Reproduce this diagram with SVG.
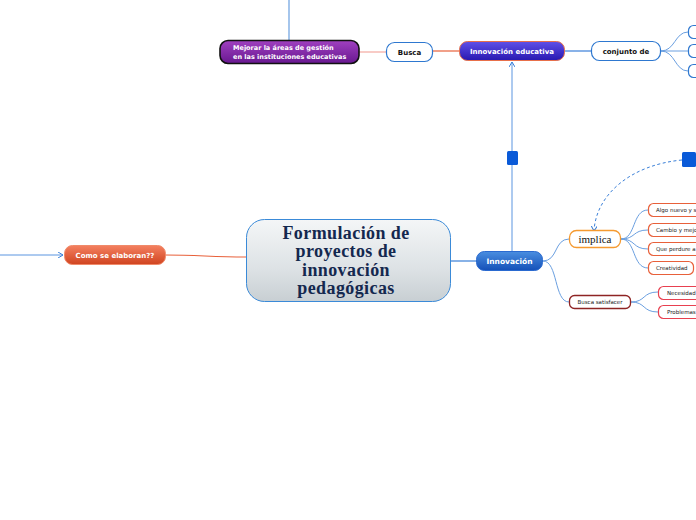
<svg xmlns="http://www.w3.org/2000/svg" width="696" height="520" viewBox="0 0 696 520">
<style>
.t{font-family:"DejaVu Sans",Verdana,sans-serif;font-weight:bold;font-size:7px;text-anchor:middle}
.s{font-family:"DejaVu Sans",Verdana,sans-serif;font-size:5.5px;fill:#222}
.w{fill:#fff}
.c{fill:none;stroke:#6a9fe0;stroke-width:1}
.wb{fill:#fff;stroke:#2e78d0;stroke-width:1.2}
.ob{fill:#fff;stroke:#e8603a;stroke-width:1.2}
</style>
<defs>
<linearGradient id="gc" x1="0" y1="0" x2="0" y2="1"><stop offset="0" stop-color="#f4f6f7"/><stop offset="0.6" stop-color="#dde2e5"/><stop offset="1" stop-color="#c8cfd3"/></linearGradient>
<linearGradient id="gb" x1="0" y1="0" x2="0" y2="1"><stop offset="0" stop-color="#4a8ee0"/><stop offset="1" stop-color="#1450b8"/></linearGradient>
<linearGradient id="gp" x1="0" y1="0" x2="0" y2="1"><stop offset="0" stop-color="#6050e8"/><stop offset="1" stop-color="#2818b0"/></linearGradient>
<linearGradient id="gm" x1="0" y1="0" x2="0" y2="1"><stop offset="0" stop-color="#a040c0"/><stop offset="1" stop-color="#681890"/></linearGradient>
<linearGradient id="go" x1="0" y1="0" x2="0" y2="1"><stop offset="0" stop-color="#f48060"/><stop offset="1" stop-color="#d04420"/></linearGradient>
<marker id="ar" markerWidth="6" markerHeight="6" refX="5" refY="3" orient="auto" markerUnits="userSpaceOnUse"><path d="M0,0 L5,3 L0,6" fill="none" stroke="#3a7fd8" stroke-width="1"/></marker>
</defs>
<g id="connectors">
<path d="M289,0 V40" stroke="#6a9fe0" stroke-width="1.2" fill="none"/>
<path d="M359,52 H386" stroke="#f4a8a0" stroke-width="1.2" fill="none"/>
<path d="M433,51 H459" stroke="#e8603a" stroke-width="1.2" fill="none"/>
<path d="M565,51 H591" stroke="#3a7fd8" stroke-width="1.2" fill="none"/>
<path d="M661,51 C675,51 675,32 688,32 M661,51 H688 M661,51 C675,51 675,71 688,71" class="c"/>
<path d="M512,251 V62" stroke="#5a95e0" stroke-width="1" fill="none" marker-end="url(#ar)"/>
<path d="M450,261 H476" stroke="#3a7fd8" stroke-width="1.2" fill="none"/>
<path d="M543,261 C558,261 554,239 569,239 M543,261 C558,261 554,302 569,302" class="c"/>
<path d="M621,239 C636,239 632,210 648,210 M621,239 C636,239 632,230 648,230 M621,239 C636,239 632,249 648,249 M621,239 C636,239 632,268 648,268" class="c"/>
<path d="M631,302 C646,302 642,292 658,292 M631,302 C646,302 642,312 658,312" class="c"/>
<path d="M682,160 C630,165 596,195 594,231" fill="none" stroke="#3a7fd8" stroke-width="1" stroke-dasharray="3,2.5" marker-end="url(#ar)"/>
<path d="M246,257 C210,257 200,255 165,255" stroke="#e8603a" stroke-width="1.2" fill="none"/>
<path d="M0,255 H63" stroke="#5a95e0" stroke-width="1" fill="none" marker-end="url(#ar)"/>
</g>
<g id="central">
<rect x="246.5" y="219.5" width="204" height="82" rx="18" fill="url(#gc)" stroke="#3a8ad8" stroke-width="1"/>
<text font-family="'Liberation Serif','DejaVu Serif',serif" font-weight="bold" font-size="18" letter-spacing="0.4" fill="#14284f" text-anchor="middle"><tspan x="346" y="238.5">Formulación de</tspan><tspan x="346" y="257">proyectos de</tspan><tspan x="346" y="275.5">innovación</tspan><tspan x="346" y="294">pedagógicas</tspan></text>
</g>
<g id="innovacion">
<rect x="476.5" y="251.5" width="66" height="19" rx="8" fill="url(#gb)" stroke="#2a6ad0" stroke-width="1"/>
<text class="t w" x="509.5" y="264" style="font-size:7.5px">Innovación</text>
</g>
<g id="square1"><rect x="507" y="151" width="11" height="14" rx="1.5" fill="#0a5ad8"/></g>
<g id="square2"><rect x="682" y="152" width="14" height="15" rx="1.5" fill="#0a5ad8"/></g>
<g id="innov-educativa">
<rect x="459.5" y="41.5" width="105" height="19" rx="8" fill="url(#gp)" stroke="#e8704a" stroke-width="1"/>
<text class="t w" x="512" y="54">Innovación educativa</text>
</g>
<g id="busca">
<rect x="386.5" y="42.5" width="46" height="19" rx="8" class="wb"/>
<text class="t" x="409.5" y="55" fill="#111">Busca</text>
</g>
<g id="mejorar">
<rect x="220" y="40.5" width="139" height="23" rx="8" fill="url(#gm)" stroke="#111" stroke-width="1.6"/>
<text class="t w" style="text-anchor:start;font-size:6.5px"><tspan x="233" y="50">Mejorar la áreas de gestión</tspan><tspan x="233" y="58.5">en las instituciones educativas</tspan></text>
</g>
<g id="conjunto">
<rect x="591.5" y="41.5" width="69" height="19" rx="8" class="wb"/>
<text class="t" x="626" y="54" fill="#111">conjunto de</text>
</g>
<g id="c1"><rect x="688.5" y="25.5" width="20" height="13" rx="5" class="wb"/></g>
<g id="c2"><rect x="688.5" y="44.5" width="20" height="13" rx="5" class="wb"/></g>
<g id="c3"><rect x="688.5" y="64.5" width="20" height="13" rx="5" class="wb"/></g>
<g id="implica">
<rect x="569.5" y="230.5" width="51" height="17" rx="7" fill="#fff" stroke="#f59a30" stroke-width="1.3"/>
<text x="595" y="242.5" font-family="'Liberation Serif',serif" font-size="11" text-anchor="middle" fill="#111">implica</text>
</g>
<g id="algo"><rect x="648.5" y="203.5" width="60" height="13" rx="5" class="ob"/><text class="s" x="656" y="212">Algo nuevo y s</text></g>
<g id="cambio"><rect x="648.5" y="223.5" width="60" height="13" rx="5" class="ob"/><text class="s" x="656" y="232">Cambio y mejo</text></g>
<g id="perdure"><rect x="648.5" y="242.5" width="60" height="13" rx="5" class="ob"/><text class="s" x="656" y="251">Que perdure a</text></g>
<g id="creatividad"><rect x="648.5" y="261.5" width="45" height="13" rx="5" class="ob"/><text class="s" x="656" y="270">Creatividad</text></g>
<g id="busca-satisfacer">
<rect x="569.5" y="295.5" width="61" height="13" rx="5" fill="#fff" stroke="#8e2424" stroke-width="1.3"/>
<text class="s" x="600" y="304" text-anchor="middle">Busca satisfacer</text>
</g>
<g id="necesidad"><rect x="658.5" y="286.5" width="50" height="13" rx="5" fill="#fff" stroke="#e84050" stroke-width="1.2"/><text class="s" x="667" y="295">Necesidad</text></g>
<g id="problemas"><rect x="658.5" y="305.5" width="50" height="13" rx="5" fill="#fff" stroke="#e84050" stroke-width="1.2"/><text class="s" x="667" y="314">Problemas</text></g>
<g id="como">
<rect x="64.5" y="245.5" width="101" height="19" rx="8" fill="url(#go)" stroke="#f08a6a" stroke-width="1"/>
<text class="t w" x="115" y="258">Como se elaboran??</text>
</g>
</svg>
